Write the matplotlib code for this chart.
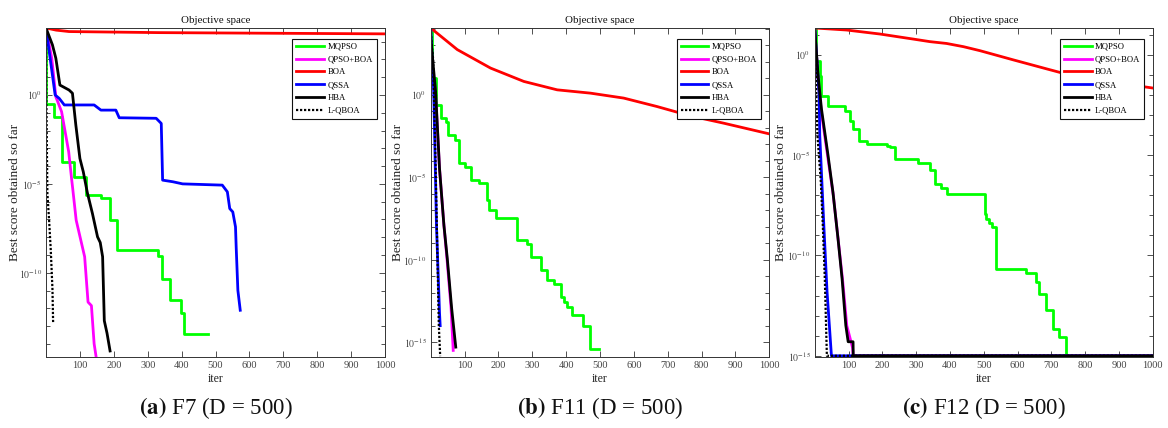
import numpy as np
import matplotlib
matplotlib.use("Agg")
import matplotlib.pyplot as plt
from matplotlib.ticker import FixedLocator, FuncFormatter, NullFormatter

plt.rcParams['font.family'] = ['Liberation Serif', 'DejaVu Serif']
plt.rcParams['mathtext.fontset'] = 'stix'

labels = ["MQPSO", "QPSO+BOA", "BOA", "QSSA", "HBA", "L-QBOA"]
colors = ["#00FF00", "#FF00FF", "#FF0000", "#0000FF", "#000000", "#000000"]
captions = [("(a)", "F7 (D = 500)"), ("(b)", "F11 (D = 500)"), ("(c)", "F12 (D = 500)")]

# ---------------- F7 (values are log10 of best score) ----------------
f7_mqpso_it = [0, 1, 24, 47, 83, 118, 162, 190, 209, 330, 343, 366, 397, 406, 477]
f7_mqpso_log = [3.77, -0.51, -1.22, -3.76, -4.64, -5.6, -5.82, -7.04, -8.73, -9.07, -10.36, -11.54, -12.24, -13.46, -13.46]
f7_qpsoboa_it = [0, 17, 29, 46, 67, 76, 79, 89, 114, 124, 134, 142, 150]
f7_qpsoboa_log = [3.77, 2.07, -0.1, -0.94, -3.2, -4.8, -5.3, -7.04, -9.1, -11.65, -11.85, -14.0, -15.0]
f7_boa_it = [0, 30, 68, 335, 1000]
f7_boa_log = [3.77, 3.65, 3.57, 3.51, 3.44]
f7_qssa_it = [0, 27, 39, 54, 142, 162, 206, 216, 325, 340, 344, 374, 403, 520, 535, 542, 551, 559, 561, 566, 573]
f7_qssa_log = [3.77, 0, -0.19, -0.56, -0.56, -0.85, -0.85, -1.28, -1.31, -1.6, -4.79, -4.88, -5.0, -5.07, -5.45, -6.39, -6.58, -7.42, -8.55, -10.99, -12.11]
f7_hba_it = [0, 19, 29, 41, 68, 78, 88, 100, 110, 122, 137, 152, 160, 167, 172, 180, 189]
f7_hba_log = [3.77, 2.82, 2.07, 0.56, 0.28, 0.1, -1.69, -3.57, -4.32, -5.5, -6.67, -7.98, -8.3, -9.1, -12.7, -13.4, -14.4]
f7_lqboa_it = [0, 1, 4, 9, 14, 19, 21]
f7_lqboa_log = [3.77, 0, -5.5, -7.0, -8.7, -10.9, -12.8]

# ---------------- F11 ----------------
f11_mqpso_it = [0, 5, 14.5, 29, 46, 52, 71, 83, 101, 118, 142, 165, 172, 194, 255, 283, 295, 326, 342, 363, 385, 393, 403, 418, 450, 470, 496]
f11_mqpso_log = [4.05, 1.0, -0.61, -1.42, -1.62, -2.43, -2.74, -4.15, -4.36, -5.17, -5.37, -6.38, -6.99, -7.5, -8.81, -9.02, -9.83, -10.6, -11.25, -11.45, -12.26, -12.56, -12.87, -13.33, -14.04, -15.44, -15.44]
f11_qpsoboa_it = [0, 14, 26, 39, 48, 60, 66.5]
f11_qpsoboa_log = [2.6, 0.2, -4.46, -7.9, -9.93, -12.9, -15.5]
f11_boa_it = [0, 78.5, 176.7, 275, 373.5, 471.7, 570, 668, 767, 865, 1000]
f11_boa_log = [4.05, 2.74, 1.62, 0.81, 0.30, 0.10, -0.20, -0.71, -1.28, -1.72, -2.37]
f11_qssa_it = [0, 9, 17, 26, 28]
f11_qssa_log = [4.05, 0.2, -7.9, -13.2, -14.0]
f11_hba_it = [0, 14.5, 26, 39, 49, 62, 74]
f11_hba_log = [3.45, 0.2, -4.46, -7.9, -9.93, -12.97, -15.3]
f11_lqboa_it = [0, 3, 7, 14, 20, 24, 28]
f11_lqboa_log = [4.05, 3.0, 2.2, -3.85, -9.9, -14.0, -15.85]

# ---------------- F12 ----------------
f12_mqpso_it = [0, 5, 15, 18, 39, 89, 104, 114, 131, 155, 214, 222, 237, 306, 341, 356, 374, 391, 503, 508, 515, 525, 536, 624, 654, 664, 685, 706, 723, 743, 1000]
f12_mqpso_log = [1.33, -0.3, -1.04, -2.04, -2.54, -2.79, -3.28, -3.7, -4.28, -4.44, -4.56, -4.61, -5.19, -5.39, -5.74, -6.43, -6.63, -6.93, -7.93, -8.17, -8.39, -8.59, -10.7, -10.88, -11.33, -11.9, -12.74, -13.65, -14.06, -15.0, -15.0]
f12_qpsoboa_it = [0, 10, 20, 39.5, 55, 70, 83, 95, 112, 114, 1000]
f12_qpsoboa_log = [1.33, -1.2, -2.9, -5.2, -7.0, -9.3, -11.3, -13.5, -14.6, -15.0, -15.0]
f12_boa_it = [0, 94, 193, 291, 341, 390, 440, 489, 588, 687, 736, 786, 884, 1000]
f12_boa_log = [1.33, 1.23, 1.03, 0.78, 0.65, 0.56, 0.40, 0.20, -0.26, -0.71, -0.93, -1.13, -1.38, -1.66]
f12_qssa_it = [0, 13, 15, 27, 36.5, 49.5, 1000]
f12_qssa_log = [1.33, -1.96, -4.03, -8.5, -11.8, -15.0, -15.0]
f12_hba_it = [0, 10, 20, 39.5, 54, 69, 81, 92, 99, 113.5, 114, 1000]
f12_hba_log = [1.33, -1.04, -2.7, -5.02, -6.85, -9.17, -11.16, -13.48, -14.3, -14.3, -15.0, -15.0]
f12_lqboa_it = [0, 8, 18, 24, 30, 36, 1000]
f12_lqboa_log = [1.33, -4.0, -6.3, -8.5, -11.2, -15.0, -15.0]

panels = [
    dict(series=[(f7_mqpso_it, f7_mqpso_log), (f7_qpsoboa_it, f7_qpsoboa_log), (f7_boa_it, f7_boa_log),
                 (f7_qssa_it, f7_qssa_log), (f7_hba_it, f7_hba_log), (f7_lqboa_it, f7_lqboa_log)],
         ylim=(-14.74, 3.77), rect=[46, 28, 385, 357], ylab_x=15),
    dict(series=[(f11_mqpso_it, f11_mqpso_log), (f11_qpsoboa_it, f11_qpsoboa_log), (f11_boa_it, f11_boa_log),
                 (f11_qssa_it, f11_qssa_log), (f11_hba_it, f11_hba_log), (f11_lqboa_it, f11_lqboa_log)],
         ylim=(-15.9, 4.05), rect=[430.7, 28, 769.3, 357], ylab_x=398),
    dict(series=[(f12_mqpso_it, f12_mqpso_log), (f12_qpsoboa_it, f12_qpsoboa_log), (f12_boa_it, f12_boa_log),
                 (f12_qssa_it, f12_qssa_log), (f12_hba_it, f12_hba_log), (f12_lqboa_it, f12_lqboa_log)],
         ylim=(-15.06, 1.33), rect=[814.7, 28, 1152.7, 357], ylab_x=781),
]

W, H = 1168, 428
fig = plt.figure(figsize=(W / 100, H / 100), dpi=100)

xticks = [100, 200, 300, 400, 500, 600, 700, 800, 900, 1000]
spine_col = "#333333"
label_col = "#444444"

for k, p in enumerate(panels):
    x0, y0, x1, y1 = p["rect"]
    ax = fig.add_axes([x0 / W, 1 - y1 / H, (x1 - x0) / W, (y1 - y0) / H])
    handles = []
    for i, (it, lg) in enumerate(p["series"]):
        vals = 10.0 ** np.asarray(lg, dtype=float)
        kw = dict(color=colors[i], lw=2.0)
        if i == 0:
            kw["drawstyle"] = "steps-post"
        if i == 5:
            kw["linestyle"] = (0, (1, 0.8))
            kw["lw"] = 1.6
        ln, = ax.plot(it, vals, label=labels[i], **kw)
        handles.append(ln)
    ax.set_yscale("log")
    ax.set_xlim(0, 1000)
    lo, hi = p["ylim"]
    ax.set_ylim(10 ** lo, 10 ** hi)
    majors = [10.0 ** e for e in (0, -5, -10, -15)]
    minors = [10.0 ** e for e in range(-16, 5)]
    ax.yaxis.set_major_locator(FixedLocator(majors))
    ax.yaxis.set_minor_locator(FixedLocator(minors))
    ax.yaxis.set_major_formatter(FuncFormatter(lambda v, pos: r"$10^{%d}$" % int(round(np.log10(v)))))
    ax.yaxis.set_minor_formatter(NullFormatter())
    ax.set_xticks(xticks)
    ax.set_xticklabels([str(t) for t in xticks])
    ax.tick_params(which="both", direction="in", top=True, right=True, colors=spine_col,
                   labelcolor=label_col, labelsize=7.5, width=0.6)
    ax.tick_params(axis="y", which="major", labelsize=7)
    ax.tick_params(which="major", length=4, pad=3)
    ax.tick_params(which="minor", length=3)
    for s in ax.spines.values():
        s.set_color(spine_col)
        s.set_linewidth(0.7)
    ax.set_title("Objective space", fontsize=7.8, pad=3.5, color="#111111")
    ax.set_xlabel("iter", fontsize=8.5, labelpad=2, color="#222222")
    ax.set_ylabel("Best score obtained so far", fontsize=9.5, color="#222222", va="center")
    ax.yaxis.set_label_coords((p["ylab_x"] - x0) / (x1 - x0), 0.5)
    leg = ax.legend(handles=handles, loc="upper right",
                    bbox_to_anchor=(1 - 8.5 / (x1 - x0), 1 - 11 / (y1 - y0)),
                    borderaxespad=0, fontsize=6.2, handlelength=3.2, handletextpad=0.4,
                    labelspacing=0.55, borderpad=0.45, fancybox=False, framealpha=1,
                    edgecolor="#111111")
    leg.get_frame().set_linewidth(0.8)
    cx = (x0 + x1) / 2 / W
    bold, rest = captions[k]
    fig.text(cx, 1 - 408 / H, r"$\mathbf{%s}$ %s" % (bold, rest), ha="center", va="center",
             fontsize=16.5, color="#111111")

fig.savefig("out.png", dpi=100)
